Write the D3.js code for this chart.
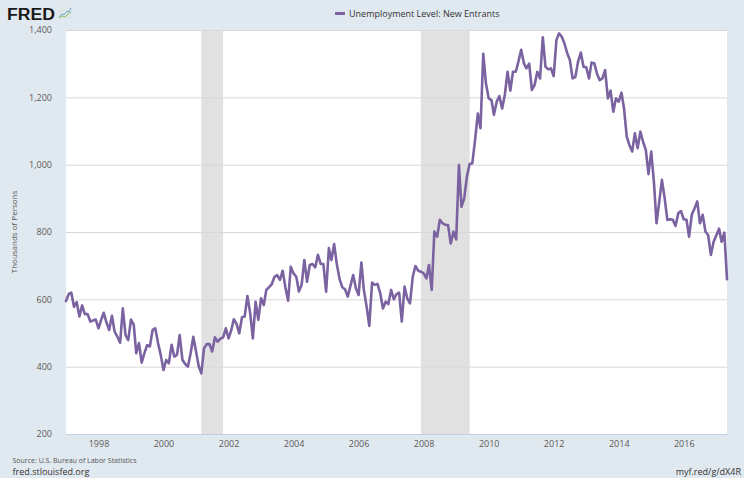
<!DOCTYPE html>
<html><head><meta charset="utf-8">
<script src="https://cdn.jsdelivr.net/npm/d3@7"></script>
<style>
body{margin:0;background:#e1e9f0;}
svg{display:block;font-family:"Open Sans",sans-serif;}
</style>
</head><body>
<svg id="c" width="744" height="478"></svg>
<script>
// Monthly observations, Jan 1997 .. May 2017 (thousands of persons)
const startDate = "1997-01-01";
const endDate = "2017-05-01";
const values = [
// 1997
595,616,620,578,592,549,582,556,556,534,537,540,
// 1998
514,540,560,531,509,551,504,489,471,573,494,479,
// 1999
540,525,440,470,412,440,464,460,509,514,470,435,
// 2000
390,420,410,465,430,435,494,420,408,400,440,489,
// 2001
445,400,380,455,467,467,445,487,474,483,487,514,
// 2002
484,509,541,527,499,547,549,610,559,484,593,539,
// 2003
603,583,628,636,645,667,672,658,685,636,596,697,
// 2004
677,667,623,643,717,652,702,705,695,732,705,705,
// 2005
623,752,717,764,705,660,636,630,608,640,672,633,
// 2006
613,709,628,578,521,650,643,646,618,573,593,586,
// 2007
628,600,615,620,534,638,603,588,667,699,685,682,
// 2008
677,662,702,628,801,786,836,826,821,821,766,801,
// 2009
778,999,875,900,964,1002,1004,1073,1152,1108,1329,1242,
// 2010
1197,1192,1148,1187,1204,1167,1207,1276,1220,1276,1276,1306,
// 2011
1341,1301,1286,1300,1222,1237,1276,1256,1378,1291,1283,1286,
// 2012
1263,1370,1390,1380,1360,1331,1311,1256,1261,1306,1333,1291,
// 2013
1289,1256,1303,1301,1271,1251,1256,1281,1197,1220,1157,1197,
// 2014
1187,1214,1167,1083,1058,1039,1093,1049,1098,1068,1044,972,
// 2015
1039,945,826,890,955,900,836,838,836,818,856,862,
// 2016
838,836,786,852,870,891,826,851,801,791,732,770,
// 2017
790,810,771,798,660
];
const yTicks = [200,400,600,800,1000,1200,1400];
const xTickYears = [1998,2000,2002,2004,2006,2008,2010,2012,2014,2016];
const recessionStarts = ["2001-03-01","2007-12-01"];
const recessionEnds = ["2001-11-01","2009-06-01"];
const seriesTitle = "Unemployment Level: New Entrants";
const yAxisTitle = "Thousands of Persons";
const sourceText = "Source: U.S. Bureau of Labor Statistics";
const siteText = "fred.stlouisfed.org";
const linkText = "myf.red/g/dX4R";

const parse = d3.utcParse("%Y-%m-%d");
const start = parse(startDate);
const data = values.map((v,i)=>({date: d3.utcMonth.offset(start,i), value:v}));

const svg = d3.select("#c");
const W = 744, H = 478;
const plot = {left:66, right:727, top:30, bottom:434};

svg.append("rect").attr("width",W).attr("height",H).attr("fill","#e1e9f0");

const x = d3.scaleUtc().domain([start, parse(endDate)]).range([plot.left, plot.right]);
const y = d3.scaleLinear().domain([200,1400]).range([plot.bottom, plot.top]);

svg.append("rect").attr("x",plot.left).attr("y",plot.top)
  .attr("width",plot.right-plot.left).attr("height",plot.bottom-plot.top).attr("fill","#ffffff");

// recession shading
svg.append("g").selectAll("rect").data(recessionStarts.map((s,i)=>[parse(s),parse(recessionEnds[i])]))
  .join("rect")
  .attr("x",d=>x(d[0])).attr("width",d=>x(d[1])-x(d[0]))
  .attr("y",plot.top).attr("height",plot.bottom-plot.top)
  .attr("fill","#e1e1e1");

// gridlines + y axis
const yAxis = d3.axisLeft(y).tickValues(yTicks).tickFormat(d3.format(",")).tickSize(-(plot.right-plot.left)).tickPadding(14);
const gy = svg.append("g").attr("transform",`translate(${plot.left},0)`).call(yAxis);
gy.select(".domain").remove();
gy.selectAll(".tick line").attr("stroke","#d8d8d8").attr("stroke-width",1);
gy.selectAll(".tick text").attr("fill","#595959").attr("font-size",9).attr("font-family","Open Sans, sans-serif");

// x axis
const xAxis = d3.axisBottom(x).tickValues(xTickYears.map(yr=>new Date(Date.UTC(yr,0,1)))).tickFormat(d3.utcFormat("%Y")).tickSize(0).tickPadding(7);
const gx = svg.append("g").attr("transform",`translate(0,${plot.bottom})`).call(xAxis);
gx.select(".domain").attr("stroke","#c0d0e0").attr("stroke-width",1);
gx.selectAll(".tick text").attr("fill","#595959").attr("font-size",9).attr("font-family","Open Sans, sans-serif");

// line
const line = d3.line().x(d=>x(d.date)).y(d=>y(d.value));
svg.append("path").datum(data).attr("d",line)
  .attr("fill","none").attr("stroke","#7b62a0").attr("stroke-width",2.6)
  .attr("stroke-linejoin","round").attr("stroke-linecap","round");

// y axis title
svg.append("text").attr("transform",`translate(17,${(plot.top+plot.bottom)/2}) rotate(-90)`)
  .attr("text-anchor","middle").attr("font-size",8).attr("fill","#595959").text(yAxisTitle);

// legend
svg.append("line").attr("x1",335).attr("x2",345).attr("y1",13.5).attr("y2",13.5)
  .attr("stroke","#7b62a0").attr("stroke-width",3);
svg.append("text").attr("x",349).attr("y",16.5).attr("font-size",9).attr("fill","#333333").text(seriesTitle);

// FRED logo
svg.append("text").attr("x",7).attr("y",19.5).attr("font-size",16).attr("font-weight",900)
  .attr("font-family","Liberation Sans, Arial, sans-serif").attr("fill","#1a1a1a")
  .attr("textLength",48).attr("lengthAdjust","spacingAndGlyphs").text("FRED");
const logo = svg.append("g").attr("transform","translate(58,7)");
logo.append("rect").attr("width",14).attr("height",12).attr("fill","#dfe6ea");
logo.append("polyline").attr("points","1,10 4,7 6,8 9,4 11,5 13,1").attr("fill","none").attr("stroke","#6aa7c9").attr("stroke-width",1);
logo.append("polyline").attr("points","1,11 4,9 7,10 10,7 13,5").attr("fill","none").attr("stroke","#8fbf6a").attr("stroke-width",1);

// footer
svg.append("text").attr("x",12.5).attr("y",463).attr("font-size",7).attr("fill","#555").text(sourceText);
svg.append("text").attr("x",12.5).attr("y",475).attr("font-size",9).attr("fill","#333").text(siteText);
svg.append("text").attr("x",741).attr("y",475).attr("text-anchor","end").attr("font-size",9).attr("fill","#333").text(linkText);
</script>
</body></html>
